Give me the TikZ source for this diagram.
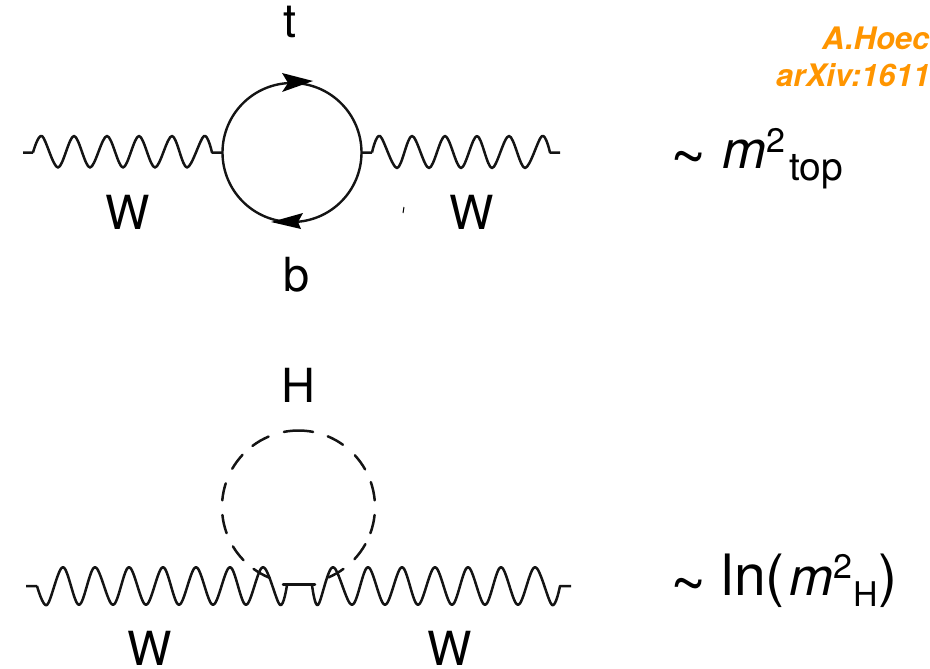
\documentclass[tikz,border=0pt]{standalone}
\usepackage{fontspec}
\setmainfont{TeX Gyre Heros}
\newfontfamily\lab{TeX Gyre Heros}[FakeBold=-0.25]
\newcommand{\fsz}[1]{\fontsize{#1}{#1}\selectfont}
\newcommand{\tld}{\raisebox{-10pt}{\fsz{62}\char`\~}}
\definecolor{cite}{HTML}{FF9500}
\tikzset{
  wave/.style={line width=2.5pt,line join=round,draw=black!92},
  loop/.style={line width=2.4pt,draw=black!92},
  dsh/.style={line width=2.5pt,line cap=round,draw=black!92},
  tip/.style={fill=black,draw=none},
  lbl/.style={inner sep=0pt,anchor=base west,font=\lab\fsz{47}},
  ref/.style={inner sep=0pt,anchor=base west,text=cite,font=\bfseries\itshape\fsz{31}}
}
\begin{document}
\begin{tikzpicture}[x=1pt,y=-1pt]
\useasboundingbox (0,0) rectangle (930,669);
\clip (0,0) rectangle (930,669);
% vertices
\coordinate (ul) at (23,152.5);
\coordinate (u1) at (222,152.5);
\coordinate (u2) at (362,152.5);
\coordinate (ur) at (560,152.5);
\coordinate (ll) at (26,586);
\coordinate (lr) at (571,586);
\coordinate (uc) at (292,152.5);
\coordinate (lc) at (298.5,507);
\coordinate (fl) at (283,584.5);
\coordinate (fr) at (315,584.5);
% upper W lines
\draw[wave] (ul) -- (33,152.5) plot[smooth,tension=.55] coordinates {(33,152.5)(42,136)(58,167.5)(74,136)(90,167.5)(107,136)(123,167.5)(139,136)(155,167.5)(172,136)(187,167.5)(204,136)(212,152.5)} -- (u1);
\draw[wave] (u2) -- (372,152.5) plot[smooth,tension=.55] coordinates {(372,152.5)(380,136)(397,168)(412,136)(429,168)(445,136)(461,168)(477,136)(492,168)(509,136)(525,168)(542,136)(550,152.5)} -- (ur);
% fermion loop
\draw[loop] (uc) circle[radius=69.5];
\fill[tip] (313,81) -- (282,73) -- (288,83) -- (282,92) -- cycle;
\fill[tip] (271,222) -- (303,213) -- (298,222) -- (301,229) -- cycle;
\draw[line width=1pt] (404,207) -- (403,213);
% lower W line
\draw[wave] (ll) -- (37,586) plot[smooth,tension=.55] coordinates {(37,586)(47,605)(63,567)(79,605)(95,567)(113,605)(129,567)(146,605)(163,567)(179,605)(196,567)(213,605)(230,567)(246,605)(263,567)(280,605)(287,585)};
\draw[wave] plot[smooth,tension=.55] coordinates {(312,585)(318,605)(333,567)(352,605)(368,567)(385,605)(402,567)(418,605)(435,567)(452,605)(468,567)(485,605)(501,567)(518,605)(535,567)(552,605)(560,586)} -- (lr);
% Higgs loop (the y axis points down, so positive angles run clockwise on the page)
\foreach \a/\b in {-101/-79,-67.5/-54.5,-42.5/-29.5,-19/-5,6/20,29/43,54/67,112/126,136/149,160/174,185/198,210/223,233/247}
  \draw[dsh] (lc) ++(\a:76.5) arc[start angle=\a,end angle=\b,radius=76.5];
\draw[dsh] (fl) -- (fr);
% labels
\node[lbl] (t) at (283,38) {t};
\node[lbl] (wa) at (105,229) {W};
\node[lbl] (wb) at (449,229) {W};
\node[lbl] (b) at (283,291) {b};
\node[lbl] (h) at (281,402) {H};
\node[lbl] (wc) at (127,665) {W};
\node[lbl] (wd) at (427,665) {W};
\node[ref] (r1) at (822,50) {A.Hoec};
\node[ref] (r2) at (776,87) {arXiv:1611};
\node[lbl] (m1) at (670,168) {\tld\hspace{16pt}{\fsz{53}\itshape m}\raisebox{16pt}{\fsz{34}2}\hspace{4pt}\raisebox{-12pt}{\fsz{39}top}};
\node[lbl] (m2) at (670,595) {\tld\hspace{15pt}{\fsz{57}ln(}\hspace{5pt}{\fsz{53}\itshape m}\raisebox{17pt}{\fsz{34}2}\hspace{1pt}\raisebox{-11pt}{\fsz{34}H}\fsz{57})};
\end{tikzpicture}
\end{document}
